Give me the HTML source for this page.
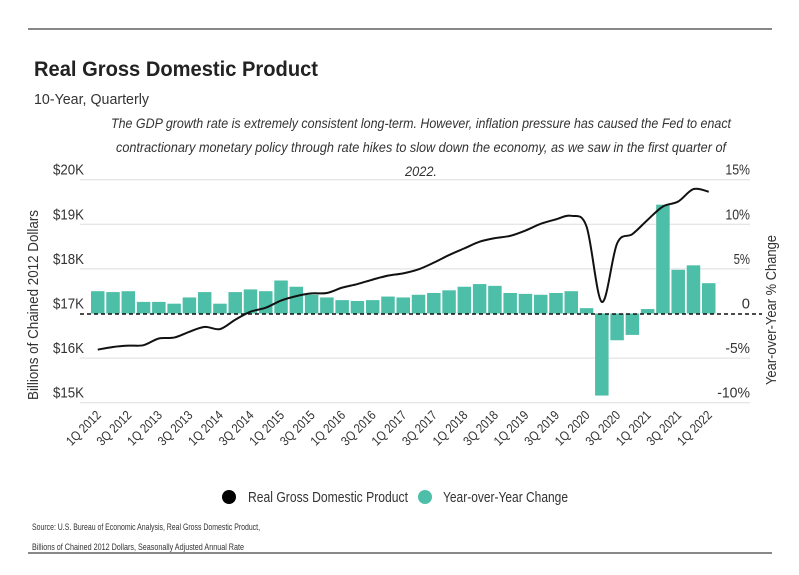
<!DOCTYPE html>
<html><head><meta charset="utf-8">
<style>
html,body{margin:0;padding:0;background:#fff;}
svg{display:block;font-family:"Liberation Sans Narrow","Liberation Sans",sans-serif;}
</style></head>
<body>
<svg id="chart" width="799" height="575" viewBox="0 0 799 575" xmlns="http://www.w3.org/2000/svg">
<line x1="28" y1="29" x2="772" y2="29" stroke="#111" stroke-width="1"/>
<text x="34" y="76" font-size="21" font-weight="bold" fill="#222" textLength="284" lengthAdjust="spacingAndGlyphs">Real Gross Domestic Product</text>
<text x="34" y="104" font-size="15" fill="#333" textLength="115" lengthAdjust="spacingAndGlyphs">10-Year, Quarterly</text>
<g font-size="14" font-style="italic" fill="#333" text-anchor="middle">
<text x="421" y="128" textLength="620" lengthAdjust="spacingAndGlyphs">The GDP growth rate is extremely consistent long-term. However, inflation pressure has caused the Fed to enact</text>
<text x="421" y="152" textLength="610" lengthAdjust="spacingAndGlyphs">contractionary monetary policy through rate hikes to slow down the economy, as we saw in the first quarter of</text>
<text x="421" y="176" textLength="32" lengthAdjust="spacingAndGlyphs">2022.</text>
</g>
<g id="grid"></g>
<g id="bars"></g>
<line x1="80" y1="314" x2="762" y2="314" stroke="#111" stroke-width="1.6" stroke-dasharray="4,3"/>
<path id="gdpLine" fill="none" stroke="#111" stroke-width="2"/>
<g id="yLeft" font-size="15" fill="#333" text-anchor="end"></g>
<g id="yRight" font-size="15" fill="#333" text-anchor="end"></g>
<g id="xAxis" font-size="13" fill="#333" text-anchor="end"></g>
<text transform="translate(38,305) rotate(-90)" font-size="15" fill="#333" text-anchor="middle" textLength="190" lengthAdjust="spacingAndGlyphs">Billions of Chained 2012 Dollars</text>
<text transform="translate(776,310) rotate(-90)" font-size="15" fill="#333" text-anchor="middle" textLength="150" lengthAdjust="spacingAndGlyphs">Year-over-Year % Change</text>
<g>
<circle cx="229" cy="497" r="7" fill="#000"/>
<text x="248" y="502" font-size="15" fill="#333" textLength="160" lengthAdjust="spacingAndGlyphs">Real Gross Domestic Product</text>
<circle cx="425" cy="497" r="7" fill="#4dbfa8"/>
<text x="443" y="502" font-size="15" fill="#333" textLength="125" lengthAdjust="spacingAndGlyphs">Year-over-Year Change</text>
</g>
<text x="32" y="530" font-size="9" fill="#333" textLength="228" lengthAdjust="spacingAndGlyphs">Source:  U.S. Bureau of Economic Analysis, Real Gross Domestic Product,</text>
<text x="32" y="550" font-size="9" fill="#333" textLength="212" lengthAdjust="spacingAndGlyphs">Billions of Chained 2012 Dollars, Seasonally Adjusted Annual Rate</text>
<line x1="28" y1="553" x2="772" y2="553" stroke="#111" stroke-width="1"/>
</svg>
<script>
const quarters = ["1Q 2012","2Q 2012","3Q 2012","4Q 2012","1Q 2013","2Q 2013","3Q 2013","4Q 2013","1Q 2014","2Q 2014","3Q 2014","4Q 2014","1Q 2015","2Q 2015","3Q 2015","4Q 2015","1Q 2016","2Q 2016","3Q 2016","4Q 2016","1Q 2017","2Q 2017","3Q 2017","4Q 2017","1Q 2018","2Q 2018","3Q 2018","4Q 2018","1Q 2019","2Q 2019","3Q 2019","4Q 2019","1Q 2020","2Q 2020","3Q 2020","4Q 2020","1Q 2021","2Q 2021","3Q 2021","4Q 2021","1Q 2022"];
const yoyChange = [2.5,2.4,2.5,1.3,1.3,1.1,1.8,2.4,1.1,2.4,2.7,2.5,3.7,3.0,2.1,1.8,1.5,1.4,1.5,1.9,1.8,2.1,2.3,2.6,3.0,3.3,3.1,2.3,2.2,2.1,2.3,2.5,0.6,-9.2,-3.0,-2.4,0.5,12.2,4.9,5.4,3.4];
const gdpValues = [16.19,16.25,16.28,16.29,16.44,16.46,16.59,16.70,16.65,16.86,17.04,17.13,17.29,17.39,17.45,17.46,17.58,17.66,17.76,17.85,17.90,17.99,18.14,18.31,18.46,18.61,18.69,18.74,18.86,19.01,19.11,19.19,18.95,17.26,18.57,18.78,19.10,19.40,19.51,19.79,19.73];
const leftTicks = [15,16,17,18,19,20];
const leftTickLabels = ["$15K","$16K","$17K","$18K","$19K","$20K"];
const rightTicks = [-10,-5,0,5,10,15];
const rightTickLabels = ["-10%","-5%","0","5%","10%","15%"];

const NS = "http://www.w3.org/2000/svg";
const x0 = 91, step = 15.275, bw = 13.5;
function xPos(i){ return x0 + i*step; }
function xCenter(i){ return xPos(i) + bw/2; }
function yLeft(v){ return 313.5 - (v-17)*44.6; }
function yRight(p){ return 313.5 - p*8.92; }
function mk(tag, attrs){ const e=document.createElementNS(NS,tag); for(const k in attrs) e.setAttribute(k,attrs[k]); return e; }

const grid=document.getElementById('grid');
leftTicks.forEach((t,i)=>{
  if(t===17) return;
  const l=mk('line',{x1:80,y1:yLeft(t),x2:750,y2:yLeft(t),stroke:'#ddd','stroke-width':1});
  
  
  grid.appendChild(l);
});
const gl=document.getElementById('yLeft');
leftTicks.forEach((t,i)=>{
  const tx=mk('text',{x:84,y:yLeft(t)-5,textLength:31,lengthAdjust:'spacingAndGlyphs'});
  tx.textContent=leftTickLabels[i];
  
  
  gl.appendChild(tx);
});
const gr=document.getElementById('yRight');
rightTicks.forEach((t,i)=>{
  const lbl=rightTickLabels[i];
  const tx=mk('text',{x:750,y:yRight(t)-5,textLength:Math.max(lbl.length*8.2,8),lengthAdjust:'spacingAndGlyphs'});
  tx.textContent=lbl;
  
  
  gr.appendChild(tx);
});
const gb=document.getElementById('bars');
yoyChange.forEach((v,i)=>{
  const y1=yRight(Math.max(v,0)), y2=yRight(Math.min(v,0));
  const r=mk('rect',{x:xPos(i),y:y1,width:bw,height:Math.max(y2-y1,0.5),fill:'#4dbfa8'});
  
  
  gb.appendChild(r);
});
const pts=gdpValues.map((v,i)=>[xCenter(i),yLeft(v)]);
let d='M'+pts[0][0]+','+pts[0][1];
for(let i=0;i<pts.length-1;i++){
  const p0=pts[Math.max(i-1,0)],p1=pts[i],p2=pts[i+1],p3=pts[Math.min(i+2,pts.length-1)];
  const t=1/6;
  const c1=[p1[0]+(p2[0]-p0[0])*t,p1[1]+(p2[1]-p0[1])*t];
  const c2=[p2[0]-(p3[0]-p1[0])*t,p2[1]-(p3[1]-p1[1])*t];
  d+=' C'+c1[0]+','+c1[1]+' '+c2[0]+','+c2[1]+' '+p2[0]+','+p2[1];
}
document.getElementById('gdpLine').setAttribute('d',d);
const gx=document.getElementById('xAxis');
quarters.forEach((q,i)=>{
  if(i%2) return;
  const cx=xCenter(i)+4, cy=416;
  const tx=mk('text',{x:cx,y:cy,transform:'rotate(-45 '+cx+' '+cy+')',textLength:43,lengthAdjust:'spacingAndGlyphs'});
  tx.textContent=q;
  
  
  gx.appendChild(tx);
});
</script>
</body></html>
